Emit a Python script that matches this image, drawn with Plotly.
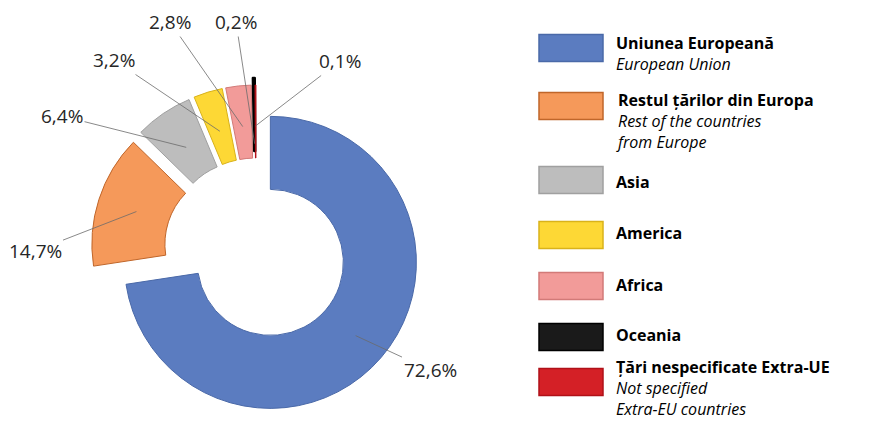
import math
import plotly.graph_objects as go

# ---------------- data ----------------
names_ro = ["Uniunea Europeană", "Restul țărilor din Europa", "Asia", "America",
            "Africa", "Oceania", "Țări nespecificate Extra-UE"]
names_en = [["European Union"], ["Rest of the countries", "from Europe"], [], [], [], [],
            ["Not specified", "Extra-EU countries"]]
values = [72.6, 14.7, 6.4, 3.2, 2.8, 0.2, 0.1]

# ---------------- style ----------------
colors = ["#5b7cc0", "#f5995a", "#bdbdbd", "#fdd835", "#f29b99", "#1a1a1a", "#d42026"]
edge_colors = ["#4a69a8", "#c0662a", "#a0a0a0", "#d9b21a", "#d27a78", "#000000", "#b01018"]
edge_widths = [1, 1, 1, 1, 1, 2.5, 1]
pulls = [0.13, 0.13, 0.13, 0.13, 0.13, 0.178, 0.13]

W, H = 872, 422
dom_x = [0.0963, 0.4908]
dom_y = [0.0, 0.8152]
FONT = "Open Sans"

fig = go.Figure()
fig.add_trace(go.Pie(
    labels=names_ro, values=values, sort=False, direction="clockwise", rotation=0,
    hole=0.5, pull=pulls, textinfo="none", hoverinfo="label+percent",
    marker=dict(colors=colors, line=dict(color=edge_colors, width=edge_widths)),
    domain=dict(x=dom_x, y=dom_y), showlegend=False,
))

# geometry (same formula plotly uses) to anchor the leader lines on the slices
bw, bh = W * (dom_x[1] - dom_x[0]), H * (dom_y[1] - dom_y[0])
cx = W * (dom_x[0] + dom_x[1]) / 2
cy = H * (1 - dom_y[0]) - bh / 2
r = min(bw, bh) / (2 * (1 + max(pulls)))
total = sum(values)

label_pos = [(430, 370), (35, 251), (62, 116), (114, 60), (170, 22), (236, 22), (340, 61)]
tip_frac = [0.77, 0.73, 0.72, 0.72, 0.72, 0.55, 0.72]

annotations = []
cum = 0.0
for i, v in enumerate(values):
    mid = (cum + v / 2) / total * 2 * math.pi
    cum += v
    d = pulls[i] * r + tip_frac[i] * r
    tx = cx + d * math.sin(mid)
    ty = cy - d * math.cos(mid)
    lx, ly = label_pos[i]
    annotations.append(dict(
        x=tx / W, y=1 - ty / H, xref="paper", yref="paper",
        ax=lx - tx, ay=ly - ty, axref="pixel", ayref="pixel",
        text=f"{v:.1f}%".replace(".", ","), showarrow=True, arrowhead=0,
        arrowwidth=0.8, arrowcolor="#6b6b6b", standoff=0,
        font=dict(family=FONT, size=19, color="#262626"),
    ))

# ---------------- legend (drawn) ----------------
rect_x = (539, 603)
rect_cy = [48, 106, 180, 235, 286, 337, 382]
bold_y = [43, 100, 182, 233, 285, 335, 367]
text_x = 615
shapes = []
for i in range(len(names_ro)):
    shapes.append(dict(
        type="rect", xref="paper", yref="paper",
        x0=rect_x[0] / W, x1=rect_x[1] / W,
        y0=1 - (rect_cy[i] - 13.5) / H, y1=1 - (rect_cy[i] + 13.5) / H,
        fillcolor=colors[i], line=dict(color=edge_colors[i], width=1.5),
    ))
    txt = "<br>".join([f"<b>{names_ro[i]}</b>"] + [f"<i>{s}</i>" for s in names_en[i]])
    annotations.append(dict(
        x=text_x / W, y=1 - (bold_y[i] - 12) / H, xref="paper", yref="paper",
        xanchor="left", yanchor="top", align="left", showarrow=False,
        text=txt, borderpad=0,
        font=dict(family=FONT, size=16, color="#000000"),
    ))

fig.update_layout(
    width=W, height=H, margin=dict(l=0, r=0, t=0, b=0),
    paper_bgcolor="white", plot_bgcolor="white",
    annotations=annotations, shapes=shapes,
)
fig.write_html(
    "out.html",
    config={"displayModeBar": False},
    post_script="document.body.style.margin='0';document.body.style.overflow='hidden';",
)
